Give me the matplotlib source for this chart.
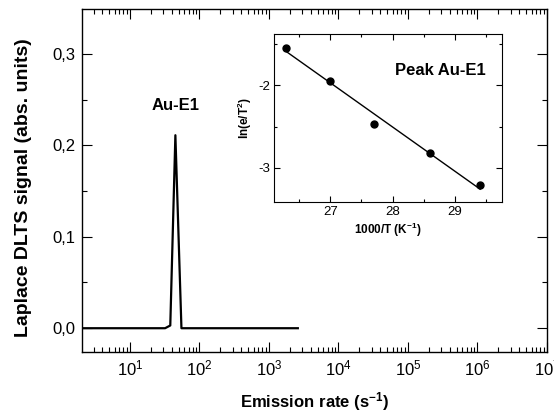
"""Laplace DLTS spectrum of the Au-E1 peak with Arrhenius plot inset."""

import matplotlib
matplotlib.use("Agg")
from matplotlib import pyplot as plt
from matplotlib.ticker import FuncFormatter, LogLocator, MultipleLocator
import numpy as np

plt.rcParams["font.family"] = ["Liberation Sans", "DejaVu Sans"]
plt.rcParams["mathtext.fontset"] = "custom"
plt.rcParams["mathtext.rm"] = "Liberation Sans"
plt.rcParams["mathtext.bf"] = "Liberation Sans:bold"
plt.rcParams["mathtext.it"] = "Liberation Sans:italic"
plt.rcParams["axes.unicode_minus"] = False

# Laplace DLTS spectrum
emission_rate = [2, 5, 10, 20, 32, 38, 45, 55, 100, 300, 1000, 2600]
signal = [0.0, 0.0, 0.0, 0.0, 0.0, 0.003, 0.211, 0.0, 0.0, 0.0, 0.0, 0.0]

# Arrhenius plot of the peak
inv_temp = [26.3, 27.0, 27.7, 28.6, 29.4]
ln_e_t2 = [-1.55, -1.95, -2.47, -2.82, -3.21]

OUTPUT_FILE = "out.png"


def comma(x, pos):
    return f"{x:.1f}".replace(".", ",")


def style_ticks(ax, size_major=5, size_minor=2.5):
    ax.tick_params(which="both", direction="in", top=True, right=True, width=0.8)
    ax.tick_params(which="major", length=size_major)
    ax.tick_params(which="minor", length=size_minor)


def plot(output_file=OUTPUT_FILE):
    fig = plt.figure(figsize=(5.54, 4.16), dpi=100)
    ax = fig.add_axes([82 / 554, 1 - 352 / 416, 465 / 554, 343 / 416])
    ax.plot(emission_rate, signal, color="black", lw=1.6)
    ax.set_xscale("log")
    ax.set_xlim(2.04, 1e7)
    ax.set_ylim(-0.026, 0.349)
    ax.set_xticks([1e1, 1e2, 1e3, 1e4, 1e5, 1e6, 1e7])
    ax.yaxis.set_major_locator(MultipleLocator(0.1))
    ax.yaxis.set_minor_locator(MultipleLocator(0.05))
    ax.yaxis.set_major_formatter(FuncFormatter(comma))
    ax.xaxis.set_minor_locator(LogLocator(base=10, subs=np.arange(2, 10), numticks=20))
    style_ticks(ax, 7, 3.5)
    ax.tick_params(labelsize=12, pad=5)
    for s in ax.spines.values():
        s.set_linewidth(1.0)
    ax.set_xlabel("Emission rate (s$^{\\mathbf{-1}}$)", fontsize=12, fontweight="bold", labelpad=8)
    ax.set_ylabel("Laplace DLTS signal (abs. units)", fontsize=14, fontweight="bold")
    ax.yaxis.set_label_coords(-0.108, 0.48)
    ax.text(45, 0.235, "Au-E1", ha="center", va="bottom", fontsize=12, fontweight="bold")

    # inset
    ins = fig.add_axes([274 / 554, 1 - 202 / 416, 228 / 554, 168 / 416])
    ins.plot(inv_temp, ln_e_t2, "o", color="black", ms=5)
    k, b = np.polyfit(inv_temp, ln_e_t2, 1)
    xf = np.array([inv_temp[0], inv_temp[-1]])
    ins.plot(xf, k * xf + b, color="black", lw=1.0)
    ins.set_xlim(26.1, 29.75)
    ins.set_ylim(-3.41, -1.385)
    ins.xaxis.set_major_locator(MultipleLocator(1))
    ins.xaxis.set_minor_locator(MultipleLocator(0.5))
    ins.yaxis.set_major_locator(MultipleLocator(1))
    ins.yaxis.set_minor_locator(MultipleLocator(0.5))
    style_ticks(ins, 4, 2)
    ins.tick_params(labelsize=9.5, pad=3)
    for s in ins.spines.values():
        s.set_linewidth(0.8)
    ins.set_xlabel("1000/T (K$^{\\mathbf{-1}}$)", fontsize=8.5, fontweight="bold", labelpad=2)
    ins.set_ylabel("ln(e/T$^{\\mathbf{2}}$)", fontsize=8.5, fontweight="bold", labelpad=3)
    ins.text(0.93, 0.78, "Peak Au-E1", transform=ins.transAxes, ha="right", va="center",
             fontsize=12, fontweight="bold")

    fig.savefig(output_file, dpi=100)
    print(f"Written to {output_file}")


if __name__ == "__main__":
    plot()
